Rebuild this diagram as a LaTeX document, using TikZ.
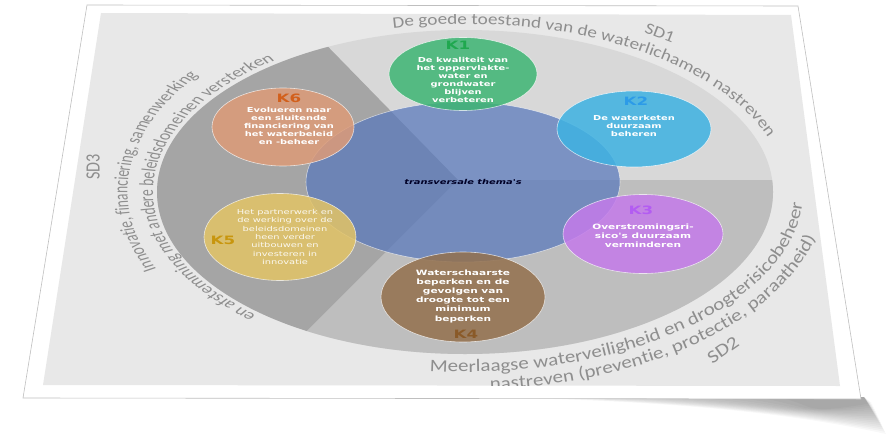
\documentclass[tikz,border=0pt]{standalone}
\usepackage{fontspec}
\setmainfont{Carlito}
\newfontfamily\kfont[FakeStretch=1.45]{DejaVu Sans}
\newfontfamily\ringfont[FakeStretch=1.2]{Carlito}
\usetikzlibrary{shapes.geometric,decorations.text}

\definecolor{pagegrey}{HTML}{E8E8E8}
\definecolor{sdone}{HTML}{D8D8D8}
\definecolor{sdtwo}{HTML}{BEBEBE}
\definecolor{sdthree}{HTML}{A5A5A5}
\definecolor{ringtext}{HTML}{8E8E8E}
\definecolor{themablue}{HTML}{5878BC}
\definecolor{kone}{HTML}{3DB573}
\definecolor{ktwo}{HTML}{3EB2E2}
\definecolor{kthree}{HTML}{C47BEA}
\definecolor{kfour}{HTML}{93704D}
\definecolor{kfive}{HTML}{E3C466}
\definecolor{ksix}{HTML}{DD9B78}
\definecolor{konel}{HTML}{1FA84F}
\definecolor{ktwol}{HTML}{2C9BE8}
\definecolor{kthreel}{HTML}{B35CF2}
\definecolor{kfourl}{HTML}{8A5A28}
\definecolor{kfivel}{HTML}{C8960E}
\definecolor{ksixl}{HTML}{D2601C}

\tikzset{
	kbol/.style={ellipse, draw=white, draw opacity=0.7, line width=0.6pt, fill opacity=0.85, inner sep=0pt},
	ktxt/.style={text=white, align=center, inner sep=0pt, font=\kfont\bfseries\fontsize{6.8}{8.1}\selectfont},
	ktxtbig/.style={text=white, align=center, inner sep=0pt, font=\kfont\bfseries\fontsize{7.3}{9.2}\selectfont},
	klab/.style={inner sep=0pt, font=\kfont\bfseries\fontsize{11.5}{12}\selectfont},
	sdlab/.style={text=ringtext, inner sep=0pt, font=\ringfont\fontsize{#1}{#1}\selectfont},
	ringtxt/.style 2 args={decorate, decoration={text along path, text align=left, text color=ringtext,
		text={|\ringfont\fontsize{#1}{#1}\selectfont|#2}}},
	ringtxtn/.style 2 args={decorate, decoration={text along path, text align=left, text color=ringtext,
		text={|\fontsize{#1}{#1}\selectfont|#2}}}
}

\begin{document}
\begin{tikzpicture}[x=1pt,y=-1pt]
	\useasboundingbox (0,0) rectangle (893,444);

	% shadow under the sheet
	\foreach \s in {0,...,14}
		\fill[black,opacity=0.028] (470+\s*22,397) .. controls (680+\s*10,400+\s*0.5) and (800,415) .. (886-\s*1,434-\s*2.2) -- (864,397) -- cycle;

	% sheet
	\filldraw[fill=white, draw=gray!50, line width=0.6pt] (87,5) -- (798,6) -- (861,399) -- (23,398) -- cycle;
	\fill[pagegrey] (101,13) -- (791,15) -- (840,386) -- (43,385) -- cycle;

	\begin{scope}
	\clip (101,13) -- (791,15) -- (840,386) -- (43,385) -- cycle;

	% wheel with the three SD sectors
	\coordinate (wm) at (465,192);
	\coordinate (sm) at (458,180);
	\begin{scope}
		\clip (wm) ellipse [x radius=308, y radius=162];
		\fill[sdone] (100,10) rectangle (800,400);
		\fill[sdthree] (sm) -- (300,18) -- (120,18) -- (120,378) -- (260,378) -- cycle;
		\fill[sdtwo] (sm) -- (260,378) -- (800,378) -- (800,180) -- cycle;
	\end{scope}

	% transversal themes
	\node 	(tt)	at	(463,182)	[ellipse, fill=themablue, fill opacity=0.72, text opacity=1, draw=white, draw opacity=0.6, line width=0.6pt,
		minimum width=314pt, minimum height=160pt, text=black!85!blue, font=\kfont\bfseries\itshape\fontsize{6.8}{7.5}\selectfont]{transversale thema's};

	% the six K circles
	\node 	(k1)	at	(463,74) 	[kbol, fill=kone, minimum width=148pt, minimum height=73pt]{};
	\node 	(k2)	at	(634,129) 	[kbol, fill=ktwo, minimum width=154pt, minimum height=76pt]{};
	\node 	(k3)	at	(643,234) 	[kbol, fill=kthree, minimum width=160pt, minimum height=79pt]{};
	\node 	(k4)	at	(463,297) 	[kbol, fill=kfour, minimum width=164pt, minimum height=90pt]{};
	\node 	(k5)	at	(280,237) 	[kbol, fill=kfive, minimum width=152pt, minimum height=87pt]{};
	\node 	(k6)	at	(283,127) 	[kbol, fill=ksix, minimum width=142pt, minimum height=78pt]{};

	\node 	(k1l)	at	(458,45) 	[klab, text=konel]{K1};
	\node 	(k1t)	at	(463,80) 	[ktxt]{De kwaliteit van\\het oppervlakte-\\water en\\grondwater\\blijven\\verbeteren};
	\node 	(k2l)	at	(636,101) 	[klab, text=ktwol]{K2};
	\node 	(k2t)	at	(634,126) 	[ktxt]{De waterketen\\duurzaam\\beheren};
	\node 	(k3l)	at	(641,210) 	[klab, text=kthreel]{K3};
	\node 	(k3t)	at	(643,236) 	[ktxtbig]{Overstromingsri-\\sico's duurzaam\\verminderen};
	\node 	(k4t)	at	(463,296) 	[ktxtbig]{Waterschaarste\\beperken en de\\gevolgen van\\droogte tot een\\minimum\\beperken};
	\node 	(k4l)	at	(466,334) 	[klab, text=kfourl]{K4};
	\node 	(k5l)	at	(223,240) 	[klab, text=kfivel]{K5};
	\node 	(k5t)	at	(285,237) 	[ktxt, font=\kfont\fontsize{6.8}{8.3}\selectfont, text opacity=0.9]{Het partnerwerk en\\de werking over de\\beleidsdomeinen\\heen verder\\uitbouwen en\\investeren in\\innovatie};
	\node 	(k6l)	at	(289,98) 	[klab, text=ksixl]{K6};
	\node 	(k6t)	at	(289,126) 	[ktxt]{Evolueren naar\\een sluitende\\financiering van\\het waterbeleid\\en -beheer};

	% SD texts around the wheel
	\path[ringtxt={16}{De goede toestand van de waterlichamen nastreven}]
		(wm) ++(-103:320 and 168) arc (-103:10:320 and 168);
	\node 	(sd1)	at	(660,33) 	[sdlab=16, rotate=-21]{SD1};

	% left side, drawn narrow and widened like the sheet
	\begin{scope}[transform canvas={xscale=1.5}]
		\coordinate (wml) at (310,192);
		\path[ringtxtn={13.5}{Innovatie, financiering, samenwerking}]
			(wml) ++(156:225 and 190) arc (156:250:225 and 190);
		\path[ringtxtn={13.5}{en afstemming met andere beleidsdomeinen versterken}]
			(wml) ++(132:208 and 166) arc (132:262:208 and 166);
	\end{scope}
	\node 	(sd3)	at	(93,167) 	[sdlab=13.5, xscale=1.5, rotate=90]{SD3};

	\path[ringtxt={17.5}{Meerlaagse waterveiligheid en droogterisicobeheer}]
		(wm) ++(96:338 and 180) arc (96:-25:338 and 180);
	\path[ringtxt={17.5}{nastreven (preventie, protectie, paraatheid)}]
		(wm) ++(86:360 and 198) arc (86:-25:360 and 198);
	\node 	(sd2)	at	(723,350) 	[sdlab=18, rotate=35]{SD2};
	\end{scope}
\end{tikzpicture}
\end{document}
